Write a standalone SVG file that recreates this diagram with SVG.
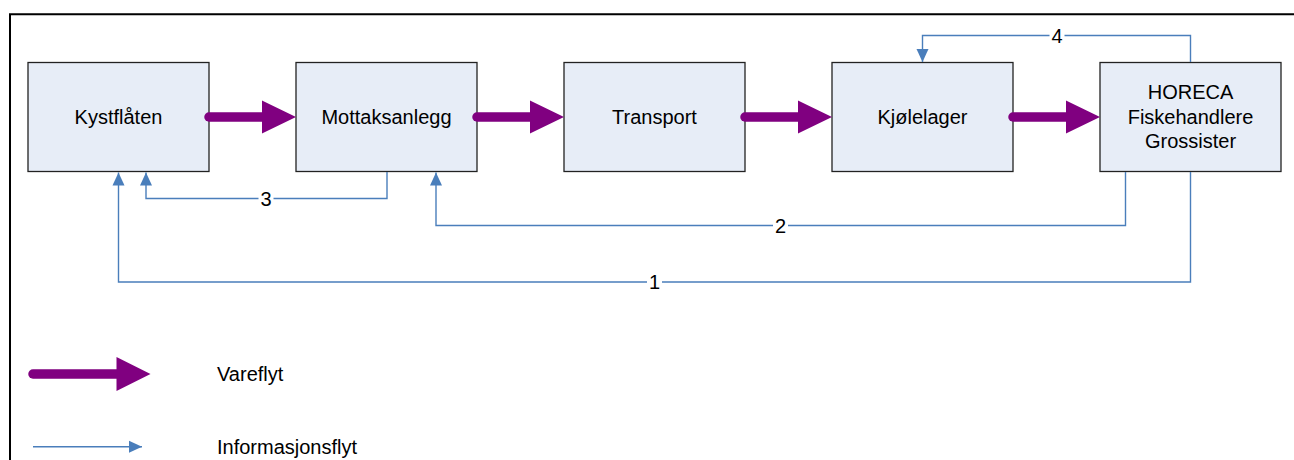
<svg xmlns="http://www.w3.org/2000/svg" width="1294" height="460" viewBox="0 0 1294 460">
<style>
.box{fill:#e7edf7;stroke:#222;stroke-width:1.3}
.t{font-family:"Liberation Sans",Arial,sans-serif;font-size:20px;fill:#000}
.c{text-anchor:middle;dominant-baseline:central}
.info{fill:none;stroke:#4a7ebb;stroke-width:1.4}
.shaft{stroke:#800080;stroke-width:9.5;stroke-linecap:round}
.head{fill:#800080}
.lbg{fill:#fff}
</style>
<defs>
<marker id="ah" markerUnits="userSpaceOnUse" markerWidth="14" markerHeight="14" viewBox="0 0 14 14" refX="13" refY="7" orient="auto">
<path d="M0,1 L13,7 L0,13 Z" fill="#4a7ebb"/>
</marker>
</defs>
<rect width="1294" height="460" fill="#fff"/>
<path d="M10,460 V14.3 H1294" fill="none" stroke="#000" stroke-width="2"/>
<g id="kystflaten"><rect class="box" x="28" y="62.5" width="181" height="109"/><text class="t c" x="118.5" y="117">Kystflåten</text></g>
<g id="mottaksanlegg"><rect class="box" x="296" y="62.5" width="181" height="109"/><text class="t c" x="386.5" y="117">Mottaksanlegg</text></g>
<g id="transport"><rect class="box" x="564" y="62.5" width="181" height="109"/><text class="t c" x="654.5" y="117">Transport</text></g>
<g id="kjolelager"><rect class="box" x="832" y="62.5" width="181" height="109"/><text class="t c" x="922.5" y="117">Kjølelager</text></g>
<g id="horeca"><rect class="box" x="1100" y="62.5" width="181" height="109"/>
<text class="t c" x="1190.5" y="92">HORECA</text>
<text class="t c" x="1190.5" y="116.5">Fiskehandlere</text>
<text class="t c" x="1190.5" y="141">Grossister</text></g>
<g id="connectors">
<g id="flow">
<line class="shaft" x1="209" y1="117" x2="264" y2="117"/><polygon class="head" points="262,100.5 296,117 262,133.5"/>
<line class="shaft" x1="477" y1="117" x2="532" y2="117"/><polygon class="head" points="530,100.5 564,117 530,133.5"/>
<line class="shaft" x1="745" y1="117" x2="800" y2="117"/><polygon class="head" points="798,100.5 832,117 798,133.5"/>
<line class="shaft" x1="1013" y1="117" x2="1068" y2="117"/><polygon class="head" points="1066,100.5 1100,117 1066,133.5"/>
</g>
<g id="info">
<path class="info" d="M1190.5,172 V282 H118.5 V172.5" marker-end="url(#ah)"/>
<path class="info" d="M1125.5,172 V225.5 H436 V172.5" marker-end="url(#ah)"/>
<path class="info" d="M387,172 V198.5 H146 V172.5" marker-end="url(#ah)"/>
<path class="info" d="M1190.5,62 V35.5 H922.5 V62" marker-end="url(#ah)"/>
<rect class="lbg" x="647" y="272" width="15" height="20"/><text class="t c" x="654.5" y="282">1</text>
<rect class="lbg" x="773" y="215.5" width="15" height="20"/><text class="t c" x="780.5" y="225.5">2</text>
<rect class="lbg" x="258.5" y="188.5" width="15" height="20"/><text class="t c" x="266" y="198.5">3</text>
<rect class="lbg" x="1049.5" y="25.5" width="15" height="20"/><text class="t c" x="1057" y="35.5">4</text>
</g>
</g>
<g id="legend">
<line class="shaft" x1="33" y1="374" x2="118" y2="374"/><polygon class="head" points="116.5,357 150.5,374 116.5,391"/>
<text class="t" x="217" y="381">Vareflyt</text>
<line class="info" x1="33" y1="446.7" x2="142" y2="446.7" marker-end="url(#ah)"/>
<text class="t" x="217" y="453.5">Informasjonsflyt</text>
</g>
</svg>
